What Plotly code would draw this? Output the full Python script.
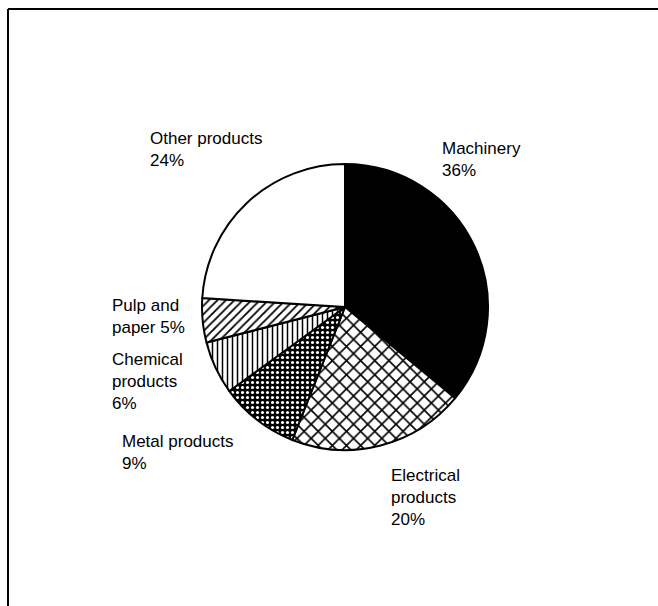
import plotly.graph_objects as go

W, H = 658, 606

# Share of output by product group (%), clockwise from 12 o'clock
categories = ["Machinery", "Electrical products", "Metal products",
              "Chemical products", "Pulp and paper", "Other products"]
shares = [36, 20, 9, 6, 5, 24]

# Label wording, broken over lines; the share is appended to each
label_lines = ["Machinery<br>", "Electrical<br>products<br>", "Metal products<br>",
               "Chemical<br>products<br>", "Pulp and<br>paper ", "Other products<br>"]

# Where each label sits (left edge, vertical middle), in pixels
label_pos = [(440, 160), (389, 497), (120, 452), (110, 381), (110, 317), (148, 149)]

# Monochrome fills: solid, cross-hatch, dotted black, verticals, diagonals, blank
fill_colors = ["black", "white", "black", "white", "white", "white"]
hatch_shape = ["", "x", ".", "|", "/", ""]
hatch_fg = ["black", "black", "white", "black", "black", "black"]
hatch_size = [8, 10, 5, 5, 6, 8]
hatch_solidity = [0.3, 0.3, 0.3, 0.3, 0.3, 0.3]

cx, cy, r = 345, 307, 143

fig = go.Figure(go.Pie(
    labels=categories,
    values=shares,
    sort=False,
    direction="clockwise",
    rotation=0,
    textinfo="none",
    hoverinfo="label+value",
    showlegend=False,
    marker=dict(
        colors=fill_colors,
        line=dict(color="black", width=2),
        pattern=dict(
            shape=hatch_shape,
            fgcolor=hatch_fg,
            bgcolor=fill_colors,
            size=hatch_size,
            solidity=hatch_solidity,
            fillmode="replace",
        ),
    ),
    domain=dict(x=[(cx - r) / W, (cx + r) / W],
                y=[1 - (cy + r) / H, 1 - (cy - r) / H]),
))

for name, val, (px, py) in zip(label_lines, shares, label_pos):
    fig.add_annotation(
        x=px / W, y=1 - py / H, xref="paper", yref="paper",
        text=f"{name}{val}%", showarrow=False,
        xanchor="left", yanchor="middle", align="left",
        font=dict(family="Liberation Sans, Arial, sans-serif", size=17, color="black"),
    )

# Frame along the top and left edges
fig.add_shape(type="line", xref="paper", yref="paper",
              x0=8 / W, y0=1 - 9 / H, x1=1.01, y1=1 - 9 / H,
              line=dict(color="black", width=2))
fig.add_shape(type="line", xref="paper", yref="paper",
              x0=8 / W, y0=1 - 9 / H, x1=8 / W, y1=-0.01,
              line=dict(color="black", width=2))

fig.update_layout(
    width=W, height=H,
    margin=dict(l=0, r=0, t=0, b=0),
    paper_bgcolor="white", plot_bgcolor="white",
)

fig.write_html("out.html")
